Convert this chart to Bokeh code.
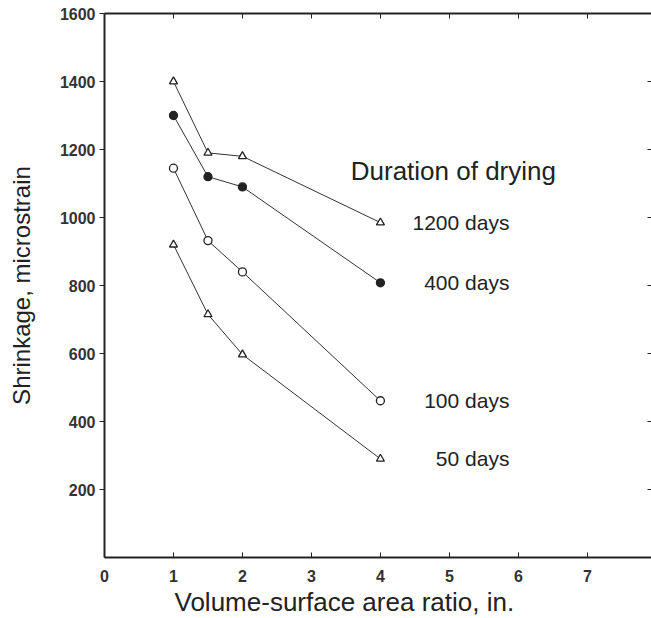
from bokeh.plotting import figure
from bokeh.models import LinearAxis, FixedTicker, Range1d, ColumnDataSource, Title
from bokeh.core.properties import value
from bokeh.embed import file_html
from bokeh.resources import INLINE

# Data (volume-surface ratio, in.) vs shrinkage (microstrain)
ratio = [1.0, 1.5, 2.0, 4.0]
days_1200 = [1400, 1190, 1180, 985]
days_400 = [1300, 1120, 1090, 808]
days_100 = [1145, 932, 840, 461]
days_50 = [920, 715, 597, 290]

series_labels = ["1200 days", "400 days", "100 days", "50 days"]
legend_title = "Duration of drying"
x_title = "Volume-surface area ratio, in."
y_title = "Shrinkage, microstrain"
x_ticks = [0, 1, 2, 3, 4, 5, 6, 7]
y_ticks = [200, 400, 600, 800, 1000, 1200, 1400, 1600]

FONT = "Liberation Sans"
INK = "#222222"

p = figure(width=651, height=618, output_backend="svg", toolbar_location=None,
           x_range=Range1d(0, 7.93), y_range=Range1d(0, 1600),
           min_border_left=104, min_border_top=13, min_border_bottom=61,
           min_border_right=0)
p.xgrid.visible = False
p.ygrid.visible = False
p.outline_line_color = None
p.background_fill_color = "white"
p.border_fill_color = "white"

# bottom axis
xa = p.xaxis[0]
xa.ticker = FixedTicker(ticks=x_ticks)
xa.minor_tick_line_color = None
xa.major_tick_in = 5
xa.major_tick_out = 0
xa.axis_line_width = 2
xa.axis_line_color = INK
xa.major_tick_line_color = INK
xa.major_label_text_font = FONT
xa.major_label_text_font_size = "16px"
xa.major_label_text_font_style = "bold"
xa.major_label_text_color = "#333333"
xa.major_label_standoff = 12

# left axis
ya = p.yaxis[0]
ya.ticker = FixedTicker(ticks=y_ticks)
ya.minor_tick_line_color = None
ya.major_tick_in = 0
ya.major_tick_out = 5
ya.axis_line_width = 2
ya.axis_line_color = INK
ya.major_tick_line_color = INK
ya.major_label_text_font = FONT
ya.major_label_text_font_size = "16px"
ya.major_label_text_font_style = "bold"
ya.major_label_text_color = "#333333"
ya.major_label_standoff = 4
ya.axis_label = y_title
ya.axis_label_text_font = FONT
ya.axis_label_text_font_size = "24px"
ya.axis_label_text_font_style = "normal"
ya.axis_label_text_color = INK
ya.axis_label_standoff = 22

# top axis (ticks only)
ta = LinearAxis(ticker=FixedTicker(ticks=x_ticks[1:]), major_tick_in=5, major_tick_out=0,
                minor_tick_line_color=None,
                major_label_overrides={t: "" for t in x_ticks[1:]},
                major_label_standoff=0, axis_line_width=2, axis_line_color=INK,
                major_tick_line_color=INK)
p.add_layout(ta, "above")

# right axis (ticks only)
ra = LinearAxis(ticker=FixedTicker(ticks=y_ticks[:-1]), major_tick_in=4, major_tick_out=0,
                minor_tick_line_color=None,
                major_label_overrides={t: "" for t in y_ticks[:-1]},
                major_label_standoff=0, axis_line_alpha=0,
                major_tick_line_color=INK)
p.add_layout(ra, "right")

series = [
    (days_1200, "triangle", False),
    (days_400, "circle", True),
    (days_100, "circle", False),
    (days_50, "triangle", False),
]
for vals, marker, filled in series:
    src = ColumnDataSource(dict(x=ratio, y=vals))
    p.line("x", "y", source=src, line_color="#333333", line_width=1)
    p.scatter("x", "y", source=src, marker=marker, size=8,
              line_color=INK, line_width=1.3,
              fill_color=INK if filled else "white")

# series labels, right-aligned, at the level of the last point
last_vals = [s[0][-1] for s in series]
lab_src = ColumnDataSource(dict(x=[5.87] * 4, y=last_vals, t=series_labels))
p.text("x", "y", text="t", source=lab_src, text_font=value(FONT),
       text_font_size="21px", text_align="right", text_baseline="middle",
       text_color=INK)

p.text(x=[3.57], y=[1138], text=[legend_title], text_font=value(FONT),
       text_font_size="26px", text_align="left", text_baseline="middle",
       text_color=INK)

# x-axis title, placed left of the frame centre as in the original
p.add_layout(Title(text=x_title, text_font=FONT, text_font_size="26px",
                   text_font_style="normal", text_color=INK, align="left",
                   offset=70, standoff=0), "below")

open("out.html", "w").write(file_html(p, INLINE))
